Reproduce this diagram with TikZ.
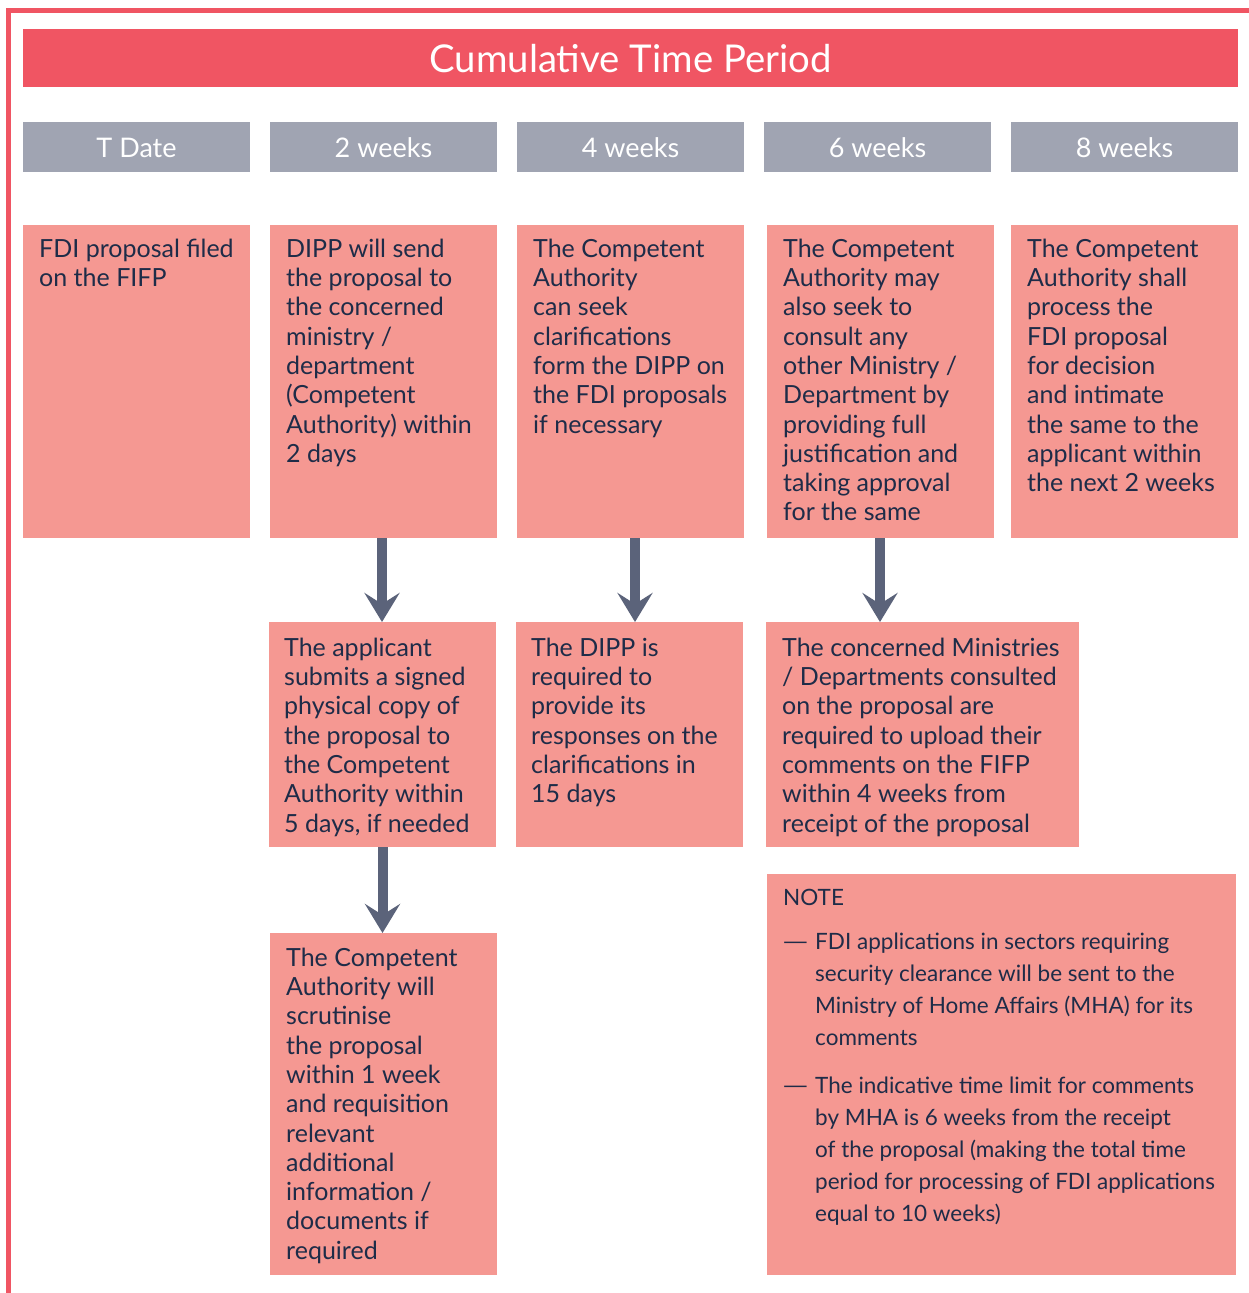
\documentclass[tikz,border=0pt]{standalone}
\usepackage{fontspec}
\usepackage{graphicx}
\setmainfont{Lato}
\usetikzlibrary{arrows.meta,calc}
\definecolor{cred}{HTML}{F05563}
\definecolor{cgrey}{HTML}{A0A4B2}
\definecolor{cpink}{HTML}{F59892}
\definecolor{ctext}{HTML}{1E2C48}
\definecolor{carrow}{HTML}{5B637A}
\newcommand{\bodyfont}{\fontsize{25}{29.3}\selectfont}
\newcommand{\notefont}{\fontsize{22.5}{32}\selectfont}
\tikzset{
  boxbase/.style={inner sep=0pt, outer sep=0pt, anchor=north west},
  pinkbox/.style={boxbase, fill=cpink},
  bodytxt/.style={inner sep=0pt, anchor=north west, align=left, text=ctext, font=\bodyfont},
  notetxt/.style={inner sep=0pt, anchor=north west, align=left, text=ctext, font=\notefont},
  headtxt/.style={inner sep=0pt, anchor=base, text=white, font=\fontsize{27}{30}\selectfont},
  conn/.style={draw=carrow, line width=10pt, -{Stealth[length=29pt, width=35pt, inset=11pt]}, fill=carrow},
  frameline/.style={draw=cred, line width=5pt}
}
\begin{document}
\begin{tikzpicture}[x=1pt,y=-1pt]
\useasboundingbox (0,0) rectangle (1249,1293);
\fill[white] (0,0) rectangle (1249,1293);
\draw[frameline] (8,1293) -- (8,10) -- (1249,10);

% title
\node[boxbase, fill=cred, minimum width=1215pt, minimum height=58pt] (title) at (23,29) {};
\node[inner sep=0pt, anchor=base, text=white, font=\fontsize{38.3}{40}\selectfont] (titletxt) at (630.5,72) {Cumulative Time Period};

% headers
\foreach \x/\lab/\nm in {23/T Date/h1, 270/2 weeks/h2, 517/4 weeks/h3, 764/6 weeks/h4, 1011/8 weeks/h5}{
  \node[boxbase, fill=cgrey, minimum width=227pt, minimum height=50pt] (\nm) at (\x,122) {};
  \node[headtxt] (\nm t) at (\x+113.5,157) {\lab};
}

% row 1
\node[pinkbox, minimum width=227pt, minimum height=313pt] (b1) at (23,225) {};
\node[pinkbox, minimum width=227pt, minimum height=313pt] (b2) at (270,225) {};
\node[pinkbox, minimum width=227pt, minimum height=313pt] (b3) at (517,225) {};
\node[pinkbox, minimum width=227pt, minimum height=313pt] (b4) at (767,225) {};
\node[pinkbox, minimum width=227pt, minimum height=313pt] (b5) at (1011,225) {};

\node[bodytxt] (t1) at (39,236.5) {\strut FDI proposal filed\\on the FIFP};
\node[bodytxt] (t2) at (286,236.5) {\strut DIPP will send\\the proposal to\\the concerned\\ministry /\\department\\(Competent\\Authority) within\\2 days};
\node[bodytxt] (t3) at (533,236.5) {\strut The Competent\\Authority\\can seek\\clarifications\\form the DIPP on\\the FDI proposals\\if necessary};
\node[bodytxt] (t4) at (783,236.5) {\strut The Competent\\Authority may\\also seek to\\consult any\\other Ministry /\\Department by\\providing full\\justification and\\taking approval\\for the same};
\node[bodytxt] (t5) at (1027,236.5) {\strut The Competent\\Authority shall\\process the\\FDI proposal\\for decision\\and intimate\\the same to the\\applicant within\\the next 2 weeks};

% row 2
\node[pinkbox, minimum width=227pt, minimum height=225pt] (c1) at (269,622) {};
\node[pinkbox, minimum width=227pt, minimum height=225pt] (c2) at (516,622) {};
\node[pinkbox, minimum width=313pt, minimum height=225pt] (c3) at (766,622) {};

\node[bodytxt] (u1) at (284,635.5) {\strut The applicant\\submits a signed\\physical copy of\\the proposal to\\the Competent\\Authority within\\5 days, if needed};
\node[bodytxt] (u2) at (531,635.5) {\strut The DIPP is\\required to\\provide its\\responses on the\\clarifications in\\15 days};
\node[bodytxt] (u3) at (782,635.5) {\strut The concerned Ministries\\/ Departments consulted\\on the proposal are\\required to upload their\\comments on the FIFP\\within 4 weeks from\\receipt of the proposal};

% row 3
\node[pinkbox, minimum width=227pt, minimum height=342pt] (d1) at (270,933) {};
\node[bodytxt] (v1) at (286,945.5) {\strut The Competent\\Authority will\\scrutinise\\the proposal\\within 1 week\\and requisition\\relevant\\additional\\information /\\documents if\\required};

% note
\node[pinkbox, minimum width=469pt, minimum height=401pt] (note) at (767,874) {};
\node[notetxt] (notehead) at (783,882.6) {\strut NOTE};
\node[notetxt] (dash1) at (782,926.6) {\strut\scalebox{1.5}[1]{---}};
\node[notetxt] (note1) at (815,926.6) {\strut FDI applications in sectors requiring\\security clearance will be sent to the\\Ministry of Home Affairs (MHA) for its\\comments};
\node[notetxt] (dash2) at (782,1070.6) {\strut\scalebox{1.5}[1]{---}};
\node[notetxt] (note2) at (815,1070.6) {\strut The indicative time limit for comments\\by MHA is 6 weeks from the receipt\\of the proposal (making the total time\\period for processing of FDI applications\\equal to 10 weeks)};

% arrows
\draw[conn] ([xshift=-1.5pt]b2.south) -- ([xshift=-1.5pt]b2.south |- c1.north);
\draw[conn] ([xshift=4.5pt]b3.south) -- ([xshift=4.5pt]b3.south |- c2.north);
\draw[conn] ([xshift=-0.5pt]b4.south) -- ([xshift=-0.5pt]b4.south |- c3.north);
\draw[conn] (c1.south) -- (c1.south |- d1.north);
\end{tikzpicture}
\end{document}
